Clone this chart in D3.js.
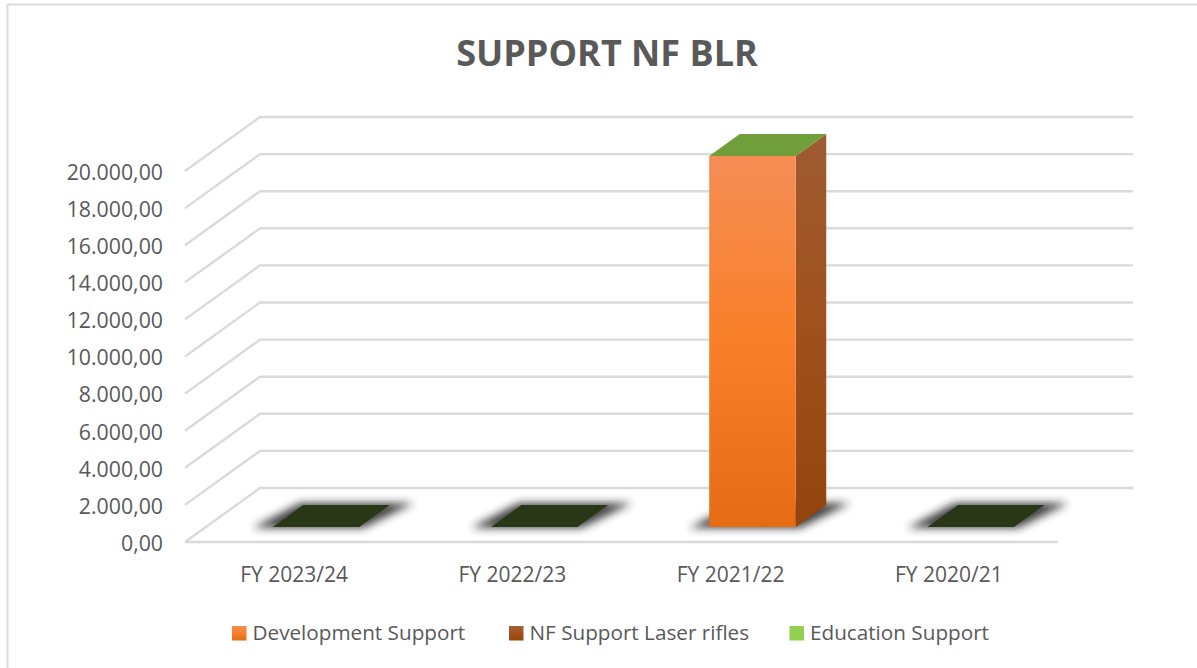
<!DOCTYPE html>
<html><head><meta charset="utf-8">
<script src="https://cdn.jsdelivr.net/npm/d3@7"></script>
<style>html,body{margin:0;background:#fff}svg{display:block}text{font-family:"Open Sans",sans-serif}</style>
</head><body><svg id="c" width="1197" height="668"></svg>
<script>
const categories = ["FY 2023/24","FY 2022/23","FY 2021/22","FY 2020/21"];
const seriesNames = ["Development Support","NF Support Laser rifles","Education Support"];
const developmentSupport = [0,0,20000,0];
const nfSupportLaserRifles = [0,0,0,0];
const educationSupport = [0,0,0,0];
const tickValues = [0,2000,4000,6000,8000,10000,12000,14000,16000,18000,20000];
const titleText = "SUPPORT NF BLR";

const svg = d3.select("#c");
const defs = svg.append("defs");
function grad(id, stops){
  const g = defs.append("linearGradient").attr("id",id).attr("x1",0).attr("y1",0).attr("x2",0).attr("y2",1);
  stops.forEach(([o,c])=>g.append("stop").attr("offset",o).attr("stop-color",c));
}
grad("front",[[0,"#F58D55"],[0.5,"#F97F28"],[1,"#E56C15"]]);
grad("side",[[0,"#9E5B32"],[0.5,"#A0501C"],[1,"#93440E"]]);
grad("sw2",[[0,"#A65F35"],[1,"#9A4408"]]);
const f = defs.append("filter").attr("id","blur").attr("x","-30%").attr("y","-80%").attr("width","160%").attr("height","260%");
f.append("feGaussianBlur").attr("stdDeviation",4.5);

const x = d3.scaleBand().domain(categories).range([185,1058]);
const y = d3.scaleLinear().domain([0,20000]).range([542,171]);
const depthX = 75, depthY = 54;
const proj = (px,py,z)=>[px+depthX*z, py-depthY*z];
const line = d3.line();

// frame
svg.append("path").attr("d","M7.5,670V4.5H1197").attr("fill","none").attr("stroke","#DCDCDC").attr("stroke-width",2);

// title
svg.append("text").attr("x",607).attr("y",66).attr("text-anchor","middle")
  .attr("font-size",36).attr("font-weight",700).attr("fill","#595959").text(titleText);

// grid
const grid = svg.append("g").attr("fill","none").attr("stroke","#DADADA").attr("stroke-width",2.4);
tickValues.forEach(v=>{
  const a=[x.range()[0],y(v)], b=proj(a[0],a[1],1), c=[x.range()[1]+depthX,b[1]];
  grid.append("path").attr("d",line([a,b,c]));
});
grid.append("path").attr("d",line([[x.range()[0],y(0)],[x.range()[1],y(0)]]));

// bars
const zNear = 0.278, zFar = 0.685;
const fmt = d3.formatLocale({decimal:",",thousands:".",grouping:[3],currency:["",""]}).format(",.2f");
categories.forEach((cat,i)=>{
  const bw = 86.5;
  const x0 = x(cat)+x.bandwidth()/2 - bw/2 + 1;
  const x1 = x0+bw;
  const base = y(0);
  const h = base - y(developmentSupport[i]);
  const P = (px,dh,z)=>proj(px,base-dh,z);
  // shadow
  svg.append("path").attr("filter","url(#blur)").attr("fill","#222").attr("opacity",0.85)
    .attr("d",line([[P(x0,0,zNear)[0]-20,P(x0,0,zNear)[1]+1],[P(x1,0,zNear)[0]+4,P(x1,0,zNear)[1]+1],
                    [P(x1,0,zFar)[0]+24,P(x1,0,zFar)[1]-2],[P(x0,0,zFar)[0]-3,P(x0,0,zFar)[1]-2]])+"Z");
  if(h>0){
    svg.append("path").attr("fill","url(#side)")
      .attr("d",line([P(x1,0,zNear),P(x1,0,zFar),P(x1,h,zFar),P(x1,h,zNear)])+"Z");
    svg.append("path").attr("fill","url(#front)")
      .attr("d",line([P(x0,0,zNear),P(x1,0,zNear),P(x1,h,zNear),P(x0,h,zNear)])+"Z");
    svg.append("path").attr("fill","#709E3A")
      .attr("d",line([P(x0,h,zNear),P(x1,h,zNear),P(x1,h,zFar),P(x0,h,zFar)])+"Z");
  } else {
    svg.append("path").attr("fill","#2A3716")
      .attr("d",line([P(x0,0,zNear),P(x1,0,zNear),P(x1,0,zFar),P(x0,0,zFar)])+"Z");
  }
});

// y labels
const yAxis = d3.axisLeft(y).tickValues(tickValues).tickSize(0).tickPadding(0).tickFormat(v=>fmt(v));
const gy = svg.append("g").attr("transform","translate(163,1.5)").call(yAxis);
gy.select(".domain").remove();
gy.selectAll("text").attr("font-size",21.3).attr("fill","#595959").attr("font-family",'"Open Sans",sans-serif');

// x labels
const xAxis = d3.axisBottom(x).tickSize(0).tickPadding(0);
const gx = svg.append("g").attr("transform","translate(0,567)").call(xAxis);
gx.select(".domain").remove();
gx.selectAll("text").attr("font-size",21).attr("fill","#595959").attr("font-family",'"Open Sans",sans-serif');

// legend
const legendX = d3.scaleOrdinal().domain(seriesNames).range([232,509,789.5]);
const legendFill = d3.scaleOrdinal().domain(seriesNames).range(["url(#front)","url(#sw2)","#92D050"]);
const leg = svg.append("g").selectAll("g").data(seriesNames).join("g")
  .attr("transform",d=>`translate(${legendX(d)},626)`);
leg.append("rect").attr("width",14.5).attr("height",14.5).attr("fill",d=>legendFill(d));
leg.append("text").attr("x",20.5).attr("y",14).attr("font-size",20.7).attr("fill","#595959").text(d=>d);
</script></body></html>
